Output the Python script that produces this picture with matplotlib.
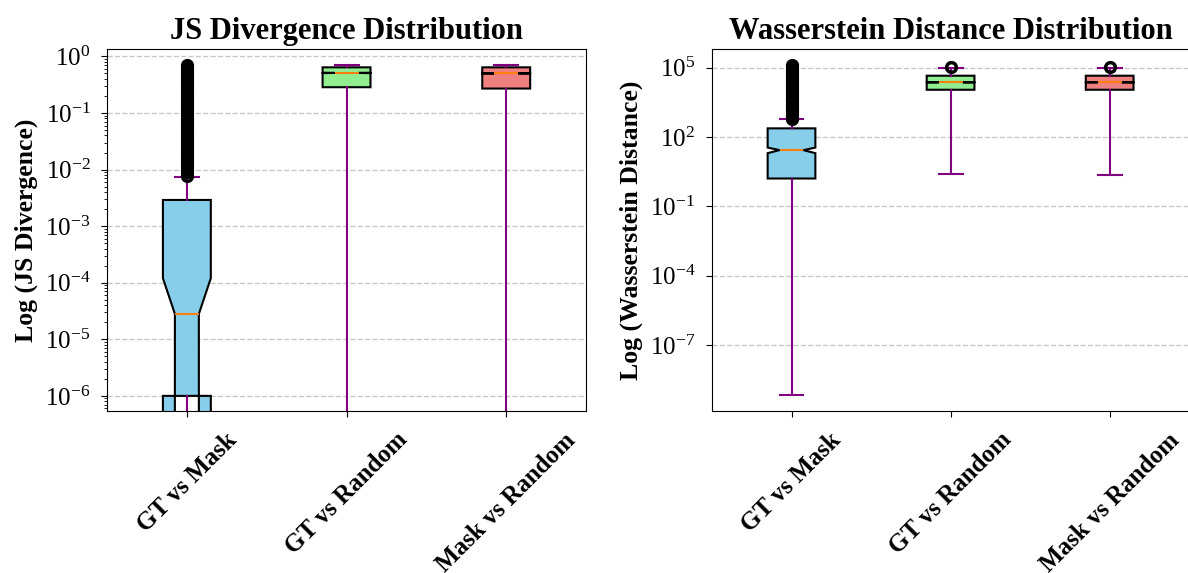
import numpy as np
import matplotlib
matplotlib.use("Agg")
import matplotlib.pyplot as plt
from matplotlib.ticker import NullLocator

plt.rcParams['font.family'] = ['Liberation Serif', 'DejaVu Serif']
plt.rcParams['mathtext.fontset'] = 'stix'

# categories
labels = ['GT vs Mask', 'GT vs Random', 'Mask vs Random']
box_colors = ['skyblue', 'lightgreen', 'lightcoral']

# JS divergence: box statistics
js_q1 = [1.0e-6, 0.285, 0.27]
js_med = [2.8e-5, 0.51, 0.50]
js_q3 = [2.9e-3, 0.64, 0.64]
js_whislo = [0.0, 0.0, 0.0]
js_whishi = [7.3e-3, 0.70, 0.70]
js_cilo = [-6.4e-5, 0.505, 0.495]
js_cihi = [1.2e-4, 0.515, 0.505]
js_fliers_mask = [0.0078, 0.0089, 0.010, 0.0112, 0.0126, 0.0141, 0.0158,
                  0.0178, 0.020, 0.0224, 0.0251, 0.0282, 0.0316, 0.0355,
                  0.0398, 0.0447, 0.0501, 0.0562, 0.0631, 0.0708, 0.0794,
                  0.0891, 0.10, 0.112, 0.126, 0.141, 0.158, 0.178, 0.20,
                  0.224, 0.251, 0.282, 0.316, 0.355, 0.398, 0.447, 0.501,
                  0.562, 0.631, 0.69]

# Wasserstein distance: box statistics
wd_q1 = [1.6, 11100, 11100]
wd_med = [27, 23300, 23300]
wd_q3 = [237, 45000, 45000]
wd_whislo = [7e-10, 2.4, 2.25]
wd_whishi = [600, 94000, 94000]
wd_cilo = [20, 22800, 22800]
wd_cihi = [35, 23800, 23800]
wd_fliers_mask = [620, 800, 1000, 1300, 1600, 2000, 2500, 3200, 4000, 5000,
                  6300, 8000, 1.0e4, 1.3e4, 1.6e4, 2.0e4, 2.5e4, 3.2e4, 4.0e4,
                  5.0e4, 6.3e4, 8.0e4, 1.0e5, 1.3e5]
wd_fliers_rand = [1.1e5]

js_ylim = (5.4e-7, 1.35)
wd_ylim = (10 ** -9.86, 10 ** 5.81)
wd_yticks = [1e-7, 1e-4, 1e-1, 1e2, 1e5]


def make_stats(q1, med, q3, lo, hi, cilo, cihi, fliers):
    stats = []
    for i in range(len(labels)):
        stats.append(dict(label=labels[i], q1=q1[i], med=med[i], q3=q3[i],
                          whislo=lo[i], whishi=hi[i], cilo=cilo[i],
                          cihi=cihi[i], fliers=fliers[i]))
    return stats


def draw_box(ax, stats, title, ylabel):
    bp = ax.bxp(stats, shownotches=True, patch_artist=True,
                boxprops=dict(edgecolor='black', linewidth=1.5),
                whiskerprops=dict(color='purple', linewidth=1.5),
                capprops=dict(color='purple', linewidth=1.5),
                medianprops=dict(color='C1', linewidth=1.5),
                flierprops=dict(marker='o', markerfacecolor='none',
                                markeredgecolor='black', markersize=7,
                                markeredgewidth=2.5))
    for patch, c in zip(bp['boxes'], box_colors):
        patch.set_facecolor(c)
    ax.set_yscale('log')
    ax.set_title(title, fontsize=22, fontweight='bold', pad=7)
    ax.set_ylabel(ylabel, fontsize=18.5, fontweight='bold', labelpad=5)
    ax.grid(axis='y', linestyle='--', color='#bbbbbb', alpha=0.8, linewidth=1)
    ax.tick_params(axis='y', which='major', labelsize=18, length=4.5, pad=7.5)
    ax.tick_params(axis='x', pad=8, length=4.5)
    plt.setp(ax.get_xticklabels(), rotation=45, fontsize=18, fontweight='bold')
    return bp


fig = plt.figure(figsize=(11.88, 5.73), dpi=100)
ax1 = fig.add_axes([0.0901, 0.2827, 0.4032, 0.6318])
ax2 = fig.add_axes([0.5993, 0.2827, 0.4017, 0.6318])

js_stats = make_stats(js_q1, js_med, js_q3, js_whislo, js_whishi, js_cilo,
                      js_cihi, [js_fliers_mask, [], []])
draw_box(ax1, js_stats, 'JS Divergence Distribution', 'Log (JS Divergence)')
ax1.set_ylim(*js_ylim)

wd_stats = make_stats(wd_q1, wd_med, wd_q3, wd_whislo, wd_whishi, wd_cilo,
                      wd_cihi, [wd_fliers_mask, wd_fliers_rand, wd_fliers_rand])
draw_box(ax2, wd_stats, 'Wasserstein Distance Distribution',
         'Log (Wasserstein Distance)')
ax2.set_yticks(wd_yticks)
ax2.yaxis.set_minor_locator(NullLocator())
ax2.set_ylim(*wd_ylim)

fig.savefig('out.png', dpi=100)
